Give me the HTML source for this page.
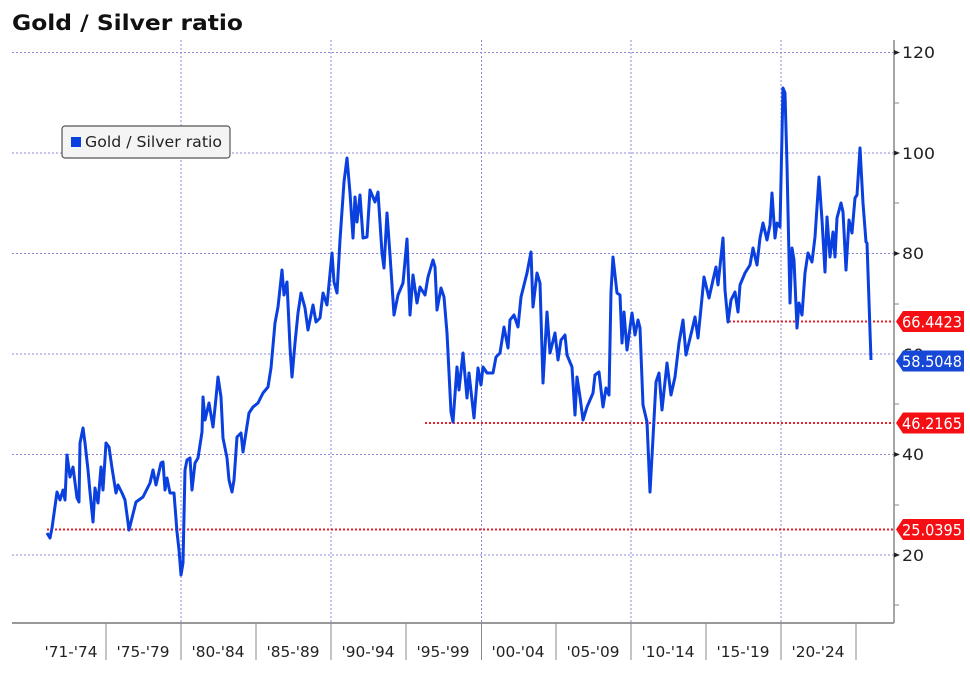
<!DOCTYPE html>
<html><head><meta charset="utf-8"><style>
body{margin:0;background:#fff;}
svg{display:block;font-family:"DejaVu Sans","Liberation Sans",sans-serif;}
</style></head><body>
<svg width="970" height="675" viewBox="0 0 970 675">
<rect width="970" height="675" fill="#fff"/>
<text x="12" y="30" font-size="21" font-weight="bold" fill="#111" textLength="231" lengthAdjust="spacingAndGlyphs">Gold / Silver ratio</text>
<g stroke="#8a8ad8" stroke-width="1" stroke-dasharray="2,2">
<line x1="12" y1="52.5" x2="894" y2="52.5"/>
<line x1="12" y1="153" x2="894" y2="153"/>
<line x1="12" y1="253.5" x2="894" y2="253.5"/>
<line x1="12" y1="354" x2="894" y2="354"/>
<line x1="12" y1="454.5" x2="894" y2="454.5"/>
<line x1="12" y1="555" x2="894" y2="555"/>
<line x1="181" y1="40" x2="181" y2="623"/>
<line x1="331" y1="40" x2="331" y2="623"/>
<line x1="481.5" y1="40" x2="481.5" y2="623"/>
<line x1="631" y1="40" x2="631" y2="623"/>
<line x1="781" y1="40" x2="781" y2="623"/>
</g>
<g stroke="#e8202a" stroke-width="2" stroke-dasharray="2,2">
<line x1="47" y1="529.5" x2="894" y2="529.5"/>
<line x1="425" y1="423" x2="894" y2="423"/>
<line x1="729" y1="321.5" x2="894" y2="321.5"/>
</g>
<polyline fill="none" stroke="#0a3fe0" stroke-width="3" stroke-linejoin="round" points="47,533 50,538 52,528 57,492 60,500 63,490 65,500 67,455 70,477 73,467 77,498 79,502 80,443 83,428 85,443 88,470 90,492 93,522 95,488 98,503 101,467 103,490 106,443 109,447 112,468 116,493 118,485 122,493 125,500 129,530 136,502 143,497 150,483 153,470 156,485 161,463 163,462 165,490 167,478 170,493 174,493 177,532 179,550 181,575 183,563 185,470 187,460 190,458 192,490 195,463 198,458 202,432 203,397 205,420 209,403 213,427 216,398 218,377 221,397 223,438 227,458 229,480 232,492 234,480 237,437 241,433 243,452 249,413 253,407 258,403 263,393 268,387 271,368 275,323 278,307 282,270 284,295 287,282 290,347 292,377 295,343 298,313 301,293 305,308 308,330 313,305 316,322 320,318 323,293 327,305 332,253 334,282 337,293 340,240 344,182 347,158 350,193 353,238 355,197 357,222 360,195 363,238 367,237 370,190 375,202 378,192 382,253 384,268 387,213 390,255 394,315 398,295 403,283 407,239 410,315 413,275 417,303 420,287 425,295 428,277 433,260 435,267 437,310 441,288 444,297 447,333 451,412 453,422 457,367 459,390 463,353 467,398 469,373 474,418 478,368 481,385 483,367 487,373 493,373 496,357 500,353 504,327 508,348 510,320 514,315 518,327 521,297 527,273 531,252 533,307 537,273 540,283 543,383 547,312 550,353 555,333 558,360 561,340 565,335 567,355 572,367 575,415 577,377 580,397 583,420 587,407 593,393 595,375 599,372 603,407 606,388 609,395 611,292 613,257 617,293 620,295 622,343 624,312 627,350 632,313 635,335 638,320 640,328 643,405 647,422 650,492 653,438 656,382 659,373 662,410 667,363 671,395 675,377 679,343 683,320 686,355 692,330 695,317 698,338 702,298 704,277 709,298 713,280 716,267 718,285 723,238 725,290 728,322 731,300 735,292 738,312 740,285 745,273 750,265 753,248 757,265 760,238 763,223 767,240 770,225 772,193 775,238 777,223 780,227 783,88 785,93 787,165 790,303 792,248 794,260 797,328 799,303 802,315 805,273 808,253 812,262 815,237 817,207 819,177 822,220 825,272 827,217 830,257 833,232 835,257 837,218 841,203 843,212 846,270 849,220 852,233 855,198 857,195 860,148 863,203 866,242 867,243 871,360"/>
<line x1="12" y1="623" x2="894" y2="623" stroke="#333" stroke-width="1"/>
<line x1="894" y1="40" x2="894" y2="623" stroke="#888" stroke-width="1.5"/>
<g stroke="#888" stroke-width="1">
<line x1="106" y1="623" x2="106" y2="660"/><line x1="181" y1="623" x2="181" y2="660"/>
<line x1="256" y1="623" x2="256" y2="660"/><line x1="331" y1="623" x2="331" y2="660"/>
<line x1="406" y1="623" x2="406" y2="660"/><line x1="481.5" y1="623" x2="481.5" y2="660"/>
<line x1="556" y1="623" x2="556" y2="660"/><line x1="631" y1="623" x2="631" y2="660"/>
<line x1="706" y1="623" x2="706" y2="660"/><line x1="781" y1="623" x2="781" y2="660"/>
<line x1="856" y1="623" x2="856" y2="660"/>
<line x1="894" y1="103" x2="899" y2="103"/><line x1="894" y1="203" x2="899" y2="203"/>
<line x1="894" y1="304" x2="899" y2="304"/><line x1="894" y1="404" x2="899" y2="404"/>
<line x1="894" y1="505" x2="899" y2="505"/><line x1="894" y1="605" x2="899" y2="605"/>
</g>
<g fill="#222">
<path d="M894,50 L900,52.5 L894,55Z"/><path d="M894,150.5 L900,153 L894,155.5Z"/>
<path d="M894,251 L900,253.5 L894,256Z"/><path d="M894,452 L900,454.5 L894,457Z"/>
<path d="M894,552.5 L900,555 L894,557.5Z"/>
</g>
<g font-size="16" fill="#222">
<text x="902" y="58" textLength="33" lengthAdjust="spacingAndGlyphs">120</text><text x="902" y="159" textLength="33" lengthAdjust="spacingAndGlyphs">100</text><text x="902" y="259" textLength="22" lengthAdjust="spacingAndGlyphs">80</text>
<text x="902" y="360" textLength="22" lengthAdjust="spacingAndGlyphs">60</text><text x="902" y="460" textLength="22" lengthAdjust="spacingAndGlyphs">40</text><text x="902" y="561" textLength="22" lengthAdjust="spacingAndGlyphs">20</text>
</g>
<g font-size="15" fill="#222" text-anchor="middle">
<text x="71" y="657" textLength="53" lengthAdjust="spacingAndGlyphs">'71-'74</text><text x="143" y="657" textLength="53" lengthAdjust="spacingAndGlyphs">'75-'79</text><text x="218" y="657" textLength="53" lengthAdjust="spacingAndGlyphs">'80-'84</text>
<text x="293" y="657" textLength="53" lengthAdjust="spacingAndGlyphs">'85-'89</text><text x="368" y="657" textLength="53" lengthAdjust="spacingAndGlyphs">'90-'94</text><text x="443" y="657" textLength="53" lengthAdjust="spacingAndGlyphs">'95-'99</text>
<text x="518" y="657" textLength="53" lengthAdjust="spacingAndGlyphs">'00-'04</text><text x="593" y="657" textLength="53" lengthAdjust="spacingAndGlyphs">'05-'09</text><text x="668" y="657" textLength="53" lengthAdjust="spacingAndGlyphs">'10-'14</text>
<text x="743" y="657" textLength="53" lengthAdjust="spacingAndGlyphs">'15-'19</text><text x="818" y="657" textLength="53" lengthAdjust="spacingAndGlyphs">'20-'24</text>
</g>
<g font-size="16" fill="#fff">
<path d="M896,321.5 L903,311 L964,311 L964,332 L903,332Z" fill="#f50f14"/>
<text x="902" y="327.5" textLength="60" lengthAdjust="spacingAndGlyphs">66.4423</text>
<path d="M896,361 L903,350.5 L964,350.5 L964,371.5 L903,371.5Z" fill="#1747d6"/>
<text x="902" y="367" textLength="60" lengthAdjust="spacingAndGlyphs">58.5048</text>
<path d="M896,423 L903,412.5 L964,412.5 L964,433.5 L903,433.5Z" fill="#f50f14"/>
<text x="902" y="429" textLength="60" lengthAdjust="spacingAndGlyphs">46.2165</text>
<path d="M896,529.5 L903,519 L964,519 L964,540 L903,540Z" fill="#f50f14"/>
<text x="902" y="535.5" textLength="60" lengthAdjust="spacingAndGlyphs">25.0395</text>
</g>
<rect x="62" y="126" width="168" height="32" rx="3" fill="#f4f4f4" stroke="#555" stroke-width="1.2"/>
<rect x="71" y="137" width="10" height="10" fill="#0a3fe0"/>
<text x="85" y="147" font-size="15" fill="#222" textLength="137" lengthAdjust="spacingAndGlyphs">Gold / Silver ratio</text>
</svg>
</body></html>
